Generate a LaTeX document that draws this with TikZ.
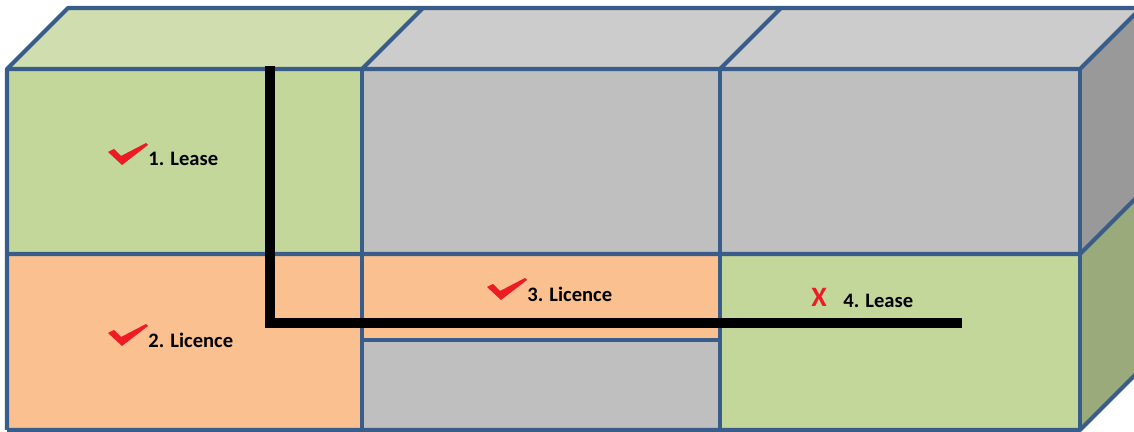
\documentclass[tikz,border=0pt]{standalone}
\usepackage{fontspec}
\setmainfont{Carlito}
\usetikzlibrary{positioning}

\definecolor{edgeblue}{RGB}{56,93,138}
\definecolor{frontgreen}{RGB}{196,215,155}
\definecolor{topgreen}{RGB}{207,221,175}
\definecolor{sidegreen}{RGB}{155,170,122}
\definecolor{frontgray}{RGB}{191,191,191}
\definecolor{topgray}{RGB}{204,204,204}
\definecolor{sidegray}{RGB}{153,153,153}
\definecolor{unitorange}{RGB}{250,192,144}
\definecolor{tickred}{RGB}{237,28,36}

\newcommand{\tickat}[1]{\fill[tickred,shift={(#1)}] (-40,-7) -- (-34,-10) -- (-27,-3) -- (-2,-16) -- (0,-14) -- (-26,6) -- cycle;}

\begin{document}
\begin{tikzpicture}[x=0.02cm,y=-0.02cm]

\tikzstyle{edge}=[draw=edgeblue,line width=2.3pt,line join=round]
\tikzstyle{wall}=[line width=6.2pt,black,line join=miter]
\tikzstyle{lbl}=[font=\fontsize{11.7}{14}\selectfont\bfseries,inner sep=0pt,anchor=west]

\useasboundingbox (0,0) rectangle (1134,432);
\clip (0,0) rectangle (1134,432);

% top face
\fill[topgreen] (7,69) -- (68,8) -- (423,8) -- (362,69) -- cycle;
\fill[topgray] (362,69) -- (423,8) -- (1141,8) -- (1080,69) -- cycle;

% right face
\fill[sidegray] (1080,69) -- (1141,8) -- (1141,193) -- (1080,254) -- cycle;
\fill[sidegreen] (1080,254) -- (1141,193) -- (1141,369) -- (1080,430) -- cycle;

% front face
\fill[frontgreen] (7,69) rectangle (362,254);
\fill[frontgray] (362,69) rectangle (1080,254);
\fill[unitorange] (7,254) rectangle (362,430);
\fill[unitorange] (362,254) rectangle (720,340);
\fill[frontgray] (362,340) rectangle (720,430);
\fill[frontgreen] (720,254) rectangle (1080,430);

% edges
\draw[edge] (7,430) -- (7,69) -- (68,8) -- (1141,8);
\draw[edge] (7,69) -- (1080,69) -- (1141,8);
\draw[edge] (362,69) -- (423,8);
\draw[edge] (720,69) -- (781,8);
\draw[edge] (7,254) -- (1080,254) -- (1141,193);
\draw[edge] (7,430) -- (1080,430) -- (1141,369);
\draw[edge] (362,69) -- (362,430);
\draw[edge] (720,69) -- (720,430);
\draw[edge] (1080,69) -- (1080,430);
\draw[edge] (362,340) -- (720,340);

% wall line
\draw[wall] (270,66) -- (270,323) -- (962,323);

% labels
\node (l1) [lbl] at (148,159) {1. Lease};
\node (l2) [lbl] at (148,340) {2. Licence};
\node (l3) [lbl] at (527,294) {3. Licence};
\node (x4) [font=\fontsize{16}{18}\selectfont\bfseries,text=tickred,inner sep=0pt] at (819,297) {X};
\node (l4) [lbl] at (843,301) {4. Lease};

\tickat{l1.west}
\tickat{l2.west}
\tickat{l3.west}

\end{tikzpicture}
\end{document}
